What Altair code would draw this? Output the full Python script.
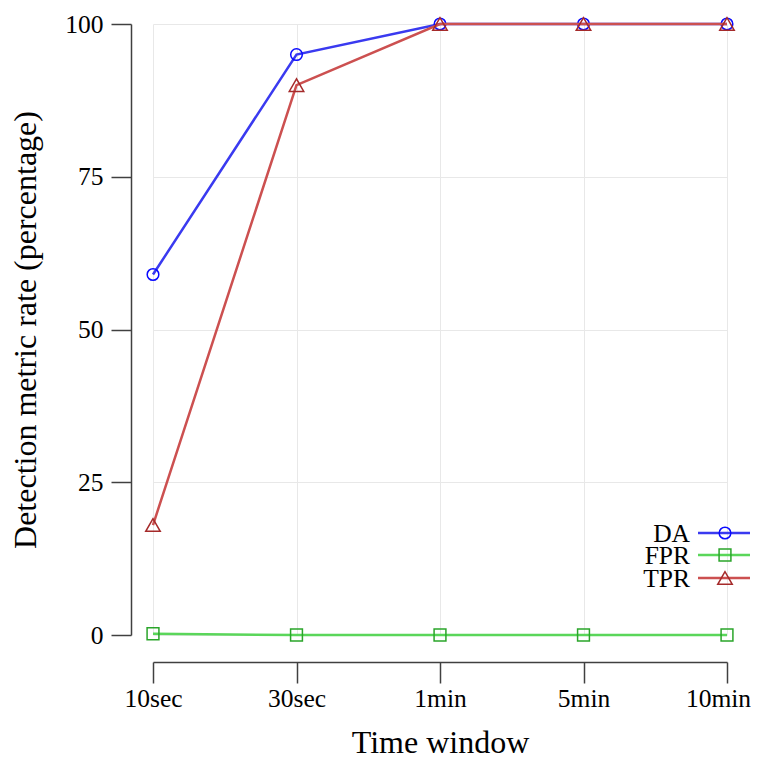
import altair as alt
import pandas as pd

windows = ["10sec", "30sec", "1min", "5min", "10min"]
da = [59, 95, 100, 100, 100]
fpr = [0.2, 0, 0, 0, 0]
tpr = [18, 90, 100, 100, 100]

series_names = ["DA", "FPR", "TPR"]
series_values = [da, fpr, tpr]
line_colors = ["#3a3af0", "#5ad65a", "#cc5050"]
point_colors = ["#0a0aff", "#2aa52a", "#a52a2a"]
shapes = ["circle", "square", "triangle-up"]
sizes = [135, 140, 210]

FONT = "Liberation Serif"

x_enc = alt.X(
    "window:N",
    sort=windows,
    scale=alt.Scale(type="point", padding=0, domain=windows),
    axis=alt.Axis(
        title="Time window",
        offset=27,
        tickSize=21,
        labelPadding=3,
        titlePadding=16,
        grid=True,
        labelAngle=0,
        labelOffset=alt.expr("datum.label == '10min' ? -9 : 0"),
    ),
)
y_enc = alt.Y(
    "value:Q",
    scale=alt.Scale(domain=[0, 100], nice=False, zero=True),
    axis=alt.Axis(
        title="Detection metric rate (percentage)",
        values=[0, 25, 50, 75, 100],
        offset=22,
        tickSize=20,
        labelPadding=8,
        titlePadding=22,
        grid=True,
    ),
)

layers = []
for i, name in enumerate(series_names):
    df = pd.DataFrame({"window": windows, "value": series_values[i], "series": name})
    base = alt.Chart(df)
    line = base.mark_line(color=line_colors[i], strokeWidth=2.5).encode(x=x_enc, y=y_enc)
    pts = base.mark_point(
        shape=shapes[i], color=point_colors[i], filled=False, size=sizes[i], strokeWidth=1.5, opacity=1
    ).encode(x=x_enc, y=y_enc)
    layers += [line, pts]

# legend (manual, label left of sample)
leg_y = [509, 531, 554]
for i, name in enumerate(series_names):
    ldf = pd.DataFrame({"series": [name]})
    lb = alt.Chart(ldf)
    txt = lb.mark_text(align="right", baseline="middle", font=FONT, fontSize=25.5, color="#000000").encode(
        text="series:N", x=alt.value(537), y=alt.value(leg_y[i] + 1)
    )
    rl = lb.mark_rule(color=line_colors[i], strokeWidth=2.5).encode(
        x=alt.value(545), x2=alt.value(597), y=alt.value(leg_y[i])
    )
    pt = lb.mark_point(
        shape=shapes[i], color=point_colors[i], filled=False, size=sizes[i], strokeWidth=1.5, opacity=1
    ).encode(x=alt.value(572), y=alt.value(leg_y[i]))
    layers += [rl, pt, txt]

chart = (
    alt.layer(*layers)
    .properties(
        width=574,
        height=611,
        autosize=alt.AutoSizeParams(type="none"),
        padding={"left": 145, "top": 16, "right": 24, "bottom": 130},
    )
    .configure_view(stroke=None)
    .configure_axis(
        labelFont=FONT,
        titleFont=FONT,
        labelFontSize=25.5,
        titleFontSize=32,
        titleFontWeight="normal",
        labelColor="#000000",
        titleColor="#000000",
        domainColor="#404040",
        tickColor="#404040",
        domainWidth=1.5,
        tickWidth=1.5,
        gridColor="#e8e8e8",
        gridWidth=1,
    )
)

chart.save("out.html", embed_options={"renderer": "svg", "actions": False})
